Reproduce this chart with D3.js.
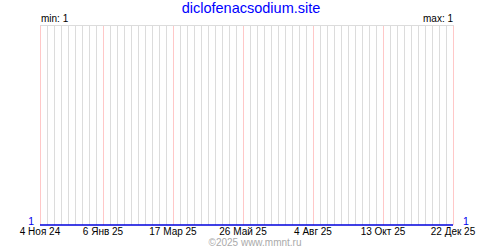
<!DOCTYPE html>
<html>
<head>
<meta charset="utf-8">
<script src="https://cdn.jsdelivr.net/npm/d3@7"></script>
<style>
  body { margin: 0; background: #fff; }
  text { font-family: "Liberation Sans", Arial, sans-serif; }
</style>
</head>
<body>
<svg id="graph"></svg>
<script>
// chart data
const title = "diclofenacsodium.site"
const tickDates = ["2024-11-04", "2025-01-06", "2025-03-17", "2025-05-26", "2025-08-04", "2025-10-13", "2025-12-22"]
const tickLabels = ["4 Ноя 24", "6 Янв 25", "17 Мар 25", "26 Май 25", "4 Авг 25", "13 Окт 25", "22 Дек 25"]
const seriesDates = ["2024-11-04", "2025-01-06", "2025-03-17", "2025-05-26", "2025-08-04", "2025-10-13", "2025-12-22"]
const seriesValues = [1, 1, 1, 1, 1, 1, 1]
const copyright = "©2025 www.mmnt.ru"

const W = 500, H = 250
const margin = { top: 25, right: 47, bottom: 25, left: 40 }
const parse = d3.utcParse("%Y-%m-%d")

const svg = d3.select("#graph").attr("width", W).attr("height", H)

const x = d3.scaleUtc()
    .domain([parse(tickDates[0]), parse(tickDates[tickDates.length - 1])])
    .range([margin.left, W - margin.right])

let vMin = d3.min(seriesValues), vMax = d3.max(seriesValues)
// flat series sits on the bottom line
const y = d3.scaleLinear()
    .domain([vMin, vMax > vMin ? vMax : vMin + 1])
    .range([H - margin.bottom, margin.top])

// weekly grid lines
const weeks = d3.utcMonday.range(x.domain()[0], d3.utcDay.offset(x.domain()[1], 1))
svg.append("g").selectAll("line")
    .data(weeks)
    .join("line")
    .attr("x1", d => Math.round(x(d)) + 0.5)
    .attr("x2", d => Math.round(x(d)) + 0.5)
    .attr("y1", margin.top)
    .attr("y2", H - margin.bottom)
    .attr("stroke", "#dcdcdc")

// labelled lines in pink
svg.append("g").selectAll("line")
    .data(tickDates.map(parse))
    .join("line")
    .attr("x1", d => Math.round(x(d)) + 0.5)
    .attr("x2", d => Math.round(x(d)) + 0.5)
    .attr("y1", margin.top)
    .attr("y2", H - margin.bottom)
    .attr("stroke", "#ffc8c8")

// top border
svg.append("line")
    .attr("x1", margin.left).attr("x2", W - margin.right + 1)
    .attr("y1", margin.top + 0.5).attr("y2", margin.top + 0.5)
    .attr("stroke", "#dcdcdc")

// series line
const line = d3.line()
    .x((d, i) => x(parse(seriesDates[i])))
    .y(d => y(d))
svg.append("path")
    .datum(seriesValues)
    .attr("d", line)
    .attr("fill", "none")
    .attr("stroke", "#0000dd")
    .attr("stroke-width", 1.5)

// date labels
svg.append("g").selectAll("text")
    .data(tickDates)
    .join("text")
    .attr("x", d => x(parse(d)))
    .attr("y", 235)
    .attr("text-anchor", "middle")
    .attr("font-size", 10)
    .attr("fill", "#000")
    .text((d, i) => tickLabels[i])

// first / last value labels
svg.append("text")
    .attr("x", margin.left - 6).attr("y", y(seriesValues[0]))
    .attr("text-anchor", "end")
    .attr("font-size", 10.5).attr("fill", "#0000ee")
    .text(seriesValues[0])
svg.append("text")
    .attr("x", W - margin.right + 10).attr("y", y(seriesValues[seriesValues.length - 1]))
    .attr("font-size", 10.5).attr("fill", "#0000ee")
    .text(seriesValues[seriesValues.length - 1])

// min / max
svg.append("text")
    .attr("x", margin.left + 1).attr("y", 22)
    .attr("font-size", 10).attr("fill", "#000")
    .text("min: " + vMin)
svg.append("text")
    .attr("x", W - margin.right).attr("y", 22)
    .attr("text-anchor", "end")
    .attr("font-size", 10).attr("fill", "#000")
    .text("max: " + vMax)

// title
svg.append("text")
    .attr("x", 251).attr("y", 13)
    .attr("text-anchor", "middle")
    .attr("font-size", 14.5).attr("fill", "#0000ff")
    .text(title)

// footer
svg.append("text")
    .attr("x", 255).attr("y", 246)
    .attr("text-anchor", "middle")
    .attr("font-size", 10).attr("fill", "#aaa")
    .text(copyright)
</script>
</body>
</html>
